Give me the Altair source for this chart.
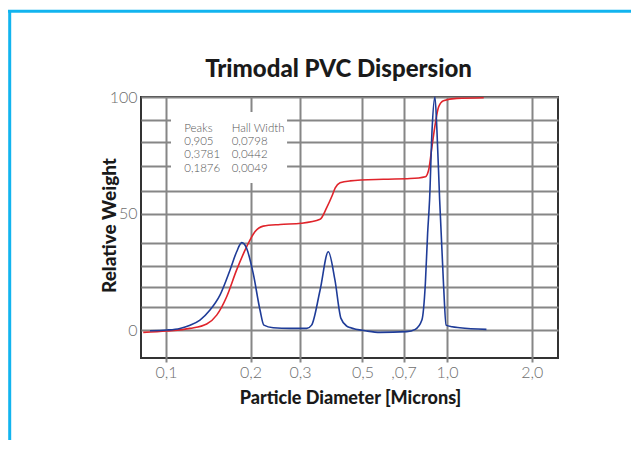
import altair as alt
import pandas as pd

# ---- data ----
blue_x = [0.0877, 0.1006, 0.1121, 0.1218, 0.1321, 0.1434, 0.1556, 0.169, 0.1784, 0.186,
          0.1937, 0.2043, 0.216, 0.223, 0.2408, 0.2761, 0.3169, 0.3296, 0.3534, 0.378,
          0.399, 0.4192, 0.4396, 0.4515, 0.5174, 0.5772, 0.7177, 0.7704, 0.8134, 0.8368,
          0.8525, 0.8662, 0.884, 0.905, 0.92, 0.9408, 0.9707, 0.9918, 1.0413, 1.11, 1.38]
blue_y = [-0.3, 0.0, 0.7, 2.1, 4.3, 8.6, 15.0, 25.8, 33.6, 37.5,
          35.0, 24.3, 8.6, 2.1, 1.0, 0.7, 0.7, 2.1, 17.2, 33.6,
          21.5, 5.0, 1.7, 1.1, -0.4, -1.0, -0.7, 0.3, 4.3, 20.0,
          41.5, 55.8, 85.8, 100.0, 85.8, 55.8, 20.0, 2.1, 1.4, 1.0, 0.3]

red_x = [0.083, 0.1006, 0.1218, 0.1396, 0.1515, 0.1644, 0.1784, 0.1937, 0.2072, 0.2218,
         0.2546, 0.3024, 0.3534, 0.373, 0.3895, 0.40, 0.416, 0.4515, 0.5928, 0.7382,
         0.8368, 0.8597, 0.8834, 0.9082, 0.9332, 0.9707, 1.0835, 1.35]
red_y = [-1.0, -0.4, 0.7, 2.6, 6.4, 14.3, 25.8, 35.8, 42.2, 44.6,
         45.3, 45.8, 47.5, 52.5, 57.5, 61.0, 63.2, 64.0, 64.7, 65.0,
         65.8, 68.7, 78.7, 88.7, 95.8, 98.4, 99.4, 99.7]

x_ticks = [0.1, 0.2, 0.3, 0.5, 0.7, 1.0, 2.0]
x_tick_labels = ["0,1", "0,2", "0,3", "0,5", ",0,7", "1,0", "2,0"]
y_grid = [0, 9.7, 18.4, 27.3, 37.5, 50, 59.5, 70.2, 80.5, 90.3, 100]
y_labels = [0, 50, 100]

# annotation box and its text
box_x = [0.1042]
box_x2 = [0.2696]
box_y = [63.1]
box_y2 = [93.6]
note_col_x = [0.1162, 0.1713]
note_row_y = [86.3, 80.7, 75.1, 69.1]
note_header = ["Peaks", "Hall Width"]
peak_vals = ["0,905", "0,3781", "0,1876"]
width_vals = ["0,0798", "0,0442", "0,0049"]

# ---- tables ----
blue_df = pd.DataFrame({"x": blue_x, "y": blue_y})
red_df = pd.DataFrame({"x": red_x, "y": red_y})
box_df = pd.DataFrame({"x": box_x, "x2": box_x2, "y": box_y, "y2": box_y2})
rows = []
for j, h in enumerate(note_header):
    rows.append({"x": note_col_x[j], "y": note_row_y[0], "t": h})
for i in range(3):
    rows.append({"x": note_col_x[0], "y": note_row_y[i + 1], "t": peak_vals[i]})
    rows.append({"x": note_col_x[1], "y": note_row_y[i + 1], "t": width_vals[i]})
note_df = pd.DataFrame(rows)

xscale = alt.Scale(type="log", domain=[0.0815, 2.48], nice=False)
yscale = alt.Scale(domain=[-12, 100], nice=False, zero=False)

label_expr_x = " : ".join(f"datum.value == {v} ? '{l}'" for v, l in zip(x_ticks, x_tick_labels)) + " : ''"
label_expr_y = "indexof([" + ",".join(str(v) for v in y_labels) + "], datum.value) >= 0 ? datum.label : ''"

LABEL_FONT = "Lato"
TITLE_FONT = "Lato"
GRID = "#868686"

x_axis = alt.Axis(values=x_ticks, tickCount=30, labelExpr=label_expr_x, grid=True, gridColor=GRID, gridWidth=2,
                  ticks=True, tickColor=GRID, tickWidth=2, tickSize=4, domain=False,
                  labelFont=LABEL_FONT, labelFontWeight=300, labelFontSize=16, labelColor="#6e6e6e",
                  labelPadding=2, labelFlush=False, labelOverlap=False,
                  title="Particle Diameter [Microns]", titleFont=TITLE_FONT, titleFontWeight=900,
                  titleFontSize=18, titleColor="#1a1a1a", titleX=209, titleY=45,
                  titleBaseline="alphabetic", titleAlign="center")
y_axis = alt.Axis(values=y_grid, tickCount=30, labelExpr=label_expr_y, grid=True, gridColor=GRID, gridWidth=2,
                  ticks=False, domain=False,
                  labelFont=LABEL_FONT, labelFontWeight=300, labelFontSize=16, labelColor="#6e6e6e",
                  labelPadding=4, labelFlush=False, labelOverlap=False,
                  title="Relative Weight", titleFont=TITLE_FONT, titleFontWeight=900,
                  titleFontSize=19, titleColor="#1a1a1a", titleX=-32, titleY=128,
                  titleAngle=270, titleAlign="center", titleBaseline="middle")

box = alt.Chart(box_df).mark_rect(fill="white", stroke=None).encode(
    x=alt.X("x:Q", scale=xscale, axis=x_axis),
    x2="x2:Q",
    y=alt.Y("y:Q", scale=yscale, axis=y_axis),
    y2="y2:Q",
)

notes = alt.Chart(note_df).mark_text(align="left", baseline="middle", font=LABEL_FONT,
                                     fontWeight=300, fontSize=11.5, color="#555555").encode(
    x=alt.X("x:Q", scale=xscale, axis=x_axis),
    y=alt.Y("y:Q", scale=yscale, axis=y_axis),
    text="t:N",
)

red = alt.Chart(red_df).mark_line(color="#e0242b", strokeWidth=1.6, interpolate="monotone").encode(
    x=alt.X("x:Q", scale=xscale, axis=x_axis),
    y=alt.Y("y:Q", scale=yscale, axis=y_axis),
)

blue = alt.Chart(blue_df).mark_line(color="#1f3c98", strokeWidth=1.6, interpolate="monotone").encode(
    x=alt.X("x:Q", scale=xscale, axis=x_axis),
    y=alt.Y("y:Q", scale=yscale, axis=y_axis),
)

one = alt.Data(values=[{"k": 1}])
border_top = alt.Chart(one).mark_rule(color="#12b4ef", strokeWidth=3).encode(
    x=alt.value(-133), x2=alt.value(520), y=alt.value(-85.7))
border_left = alt.Chart(one).mark_rule(color="#12b4ef", strokeWidth=3).encode(
    x=alt.value(-131.3), y=alt.value(-87), y2=alt.value(420))

chart = alt.layer(box, notes, red, blue, border_top, border_left).properties(
    width=417, height=261,
    autosize=alt.AutoSizeParams(type="none"),
    padding={"left": 133, "top": 89, "right": 73, "bottom": 82},
    title=alt.TitleParams("Trimodal PVC Dispersion", font=TITLE_FONT, fontWeight=900, fontSize=24,
                          color="#1a1a1a", anchor="middle", frame="group", offset=-92,
                          baseline="alphabetic", dx=-11),
    background="white",
).configure_view(stroke="#333333", strokeWidth=2)

chart.save("out.html", embed_options={"renderer": "svg", "actions": False})
